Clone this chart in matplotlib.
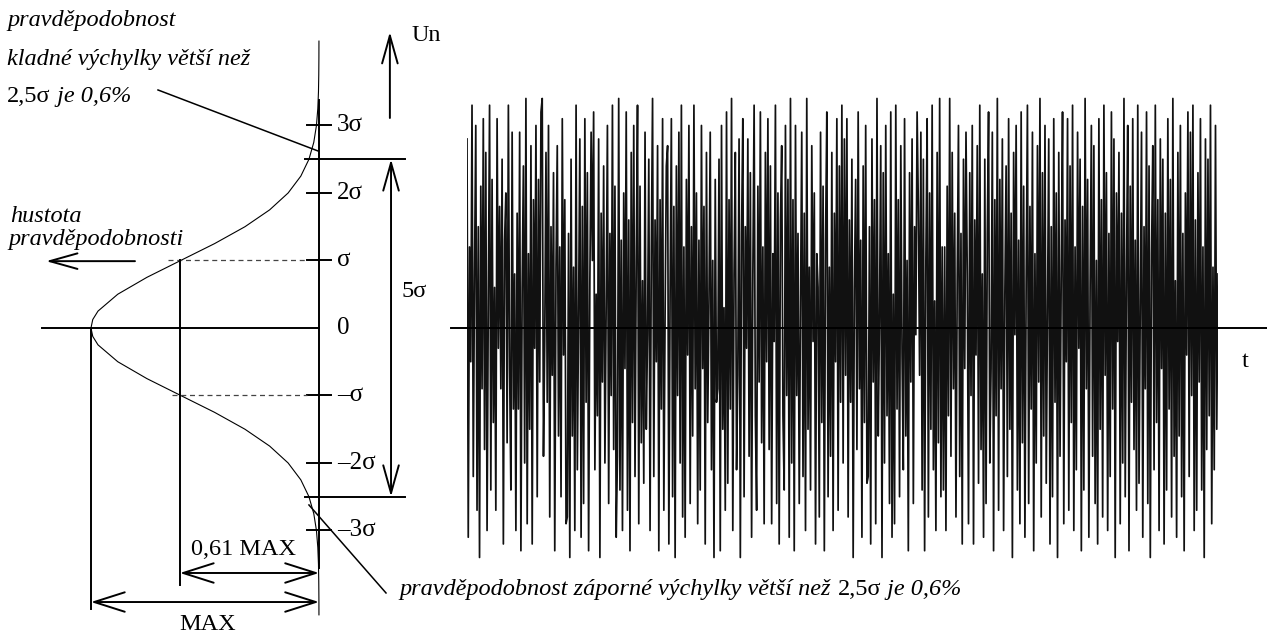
import numpy as np
import matplotlib
matplotlib.use('Agg')
import matplotlib.pyplot as plt

plt.rcParams['font.family'] = ['Liberation Serif', 'DejaVu Serif']

# --- data ---
# hustota pravdepodobnosti (relativne k MAX), cteno po 0.25 sigma
curve_u = [-4.25, -4.0, -3.75, -3.5, -3.25, -3.0, -2.75, -2.5, -2.25, -2.0,
           -1.75, -1.5, -1.25, -1.0, -0.75, -0.5, -0.25, -0.125, 0.0,
           0.125, 0.25, 0.5, 0.75, 1.0, 1.25, 1.5, 1.75, 2.0, 2.25, 2.5,
           2.75, 3.0, 3.25, 3.5, 3.75, 4.0, 4.25]
curve_p = [0.0001, 0.0003, 0.0009, 0.0022, 0.0051, 0.0111, 0.0228, 0.0439,
           0.0796, 0.1353, 0.2163, 0.3247, 0.4578, 0.6065, 0.7548, 0.8825,
           0.9692, 0.9922, 1.0, 0.9922, 0.9692, 0.8825, 0.7548, 0.6065,
           0.4578, 0.3247, 0.2163, 0.1353, 0.0796, 0.0439, 0.0228, 0.0111,
           0.0051, 0.0022, 0.0009, 0.0003, 0.0001]

sigma_ticks = [3, 2, 1, 0, -1, -2, -3]
tick_labels = ['3σ', '2σ', 'σ', '0', '–σ', '–2σ', '–3σ']

# sum Un(t) v desetinach sigma
noise_tenths = [
    28, -31, 12, -5, 33, -22, 8, 30, -27, 15, -34, 21, -9, 31, -18, 26, -30, 4, 33, -24,
    22, -14, 6, -27, 31, -3, 18, -9, 25, -32, 13, 20, -17, 33, -6, -24, 29, -12, 8, -30,
    17, -12, 29, -33, 6, 24, -20, 34, -29, 11, -15, 27, -32, 19, -3, 30, -25, 22, -8, 32,
    34, -19, -2, 26, -11, 30, -28, 15, -7, 23, -33, 9, 27, -16, 12, -25, 31, -4, 19, -29,
    -28, 14, -34, 25, -16, 9, -30, 33, -21, 2, 28, -31, 18, -26, 31, -11, 23, -33, 7, 29,
    10, 32, -21, 5, -13, 28, -34, 17, -8, 24, -20, 3, 30, -26, 14, -10, 33, -18, 21, -31,
    -19, 34, -24, 13, -30, 20, -6, 32, -27, 16, -33, 26, -14, 30, -22, 10, 33, -29, 21, -17,
    7, -23, 29, -15, -1, 25, -30, 11, 34, -22, 16, -5, 27, -33, 19, -12, 31, -27, 2, 24,
    27, -32, 5, 31, -25, 18, -34, 24, -10, 29, -20, 33, -28, 12, -31, 22, -4, 30, -26, 15,
    -16, 33, -9, 20, -29, 13, -24, 30, -6, 18, -32, 26, -14, 4, 29, -21, 10, -34, 22, -11,
    -9, 25, -33, 30, -15, 3, -27, 32, -23, 19, -12, 34, -30, 8, 26, -21, -7, 28, -34, 14,
    31, -25, 15, -3, 28, -19, 23, -31, 8, 33, -13, -27, 21, -8, 32, -17, 12, -29, 26, -5,
    31, -18, 24, -29, 11, -2, 33, -26, 20, -32, 16, 27, -13, -24, 30, -10, 22, -31, 34, -20,
    19, -33, 30, -10, 14, -26, 3, 29, -22, 17, -30, 34, -15, 9, -24, 27, -2, 20, -32, 11,
    6, -28, 29, -14, 21, -33, 13, 32, -25, 9, -19, 26, -30, 17, -5, 31, -27, 24, -11, 33,
    -20, 28, -7, 31, -28, 16, -11, 25, -34, 6, 22, -18, 32, -9, 13, -31, 24, -14, 30, -23,
    -22, 15, -32, 28, -8, 19, -29, 34, -16, 1, 27, -34, 23, -20, 30, -13, 11, -26, 32, -31,
    5, -29, 33, -12, 19, -25, 27, -4, -21, 31, -16, 10, -33, 23, -8, 28, -26, 15, -1, 32,
    18, -7, 29, -24, 25, -33, 10, 31, -28, 20, -15, 33, -21, 4, -30, 26, -17, 34, -25, 12,
    -24, 12, -30, 21, -13, 34, -19, 26, -9, 17, -28, 7, 30, -22, 14, -32, 25, -6, 29, 8,
    -29, 23, -10, 30, -32, 16, -4, 27, -23, 33, -18, 8, -31, 25, -26, 14, 32, -20, -6, 29,
    -33, 19, -13, 34, -27, 22, -9, 28, -30, 5, 24, -22, 31, -15, 17, -34, 26, -1, 30, -24,
    13, -29, 32, -17, 21, -31, 7, 33, -26, 18, -12, 29, -33, 11, -20, 27, -8, 34, -28, 23,
    -16, 30, -23, 3, 28, -32, 15, -25, 31, -11, 20, -34, 26, -19, 9, 32, -29, 16, -5, 31,
    -27, 24, -14, 33, -30, 12, -21, 29, -3, 25, -33, 18, -24, 34, -9, 22, -31, 6, 30, -19,
    27, -26, 10, -32, 31, -15, 19, -28, 33, -7, 23, -30, 14, -22, 32, -12, 28, -34, 20, -2,
    26, -29, 17, -20, 34, -25, 8, 30, -33, 21, -11, 31, -18, 13, -27, 33, -23, 4, 29, -31,
    15, -9, 32, -26, 24, -34, 11, 27, -21, 33, -14, 19, -30, 28, -6, 25, -32, 17, -24, 31,
    -12, 22, -28, 34, -19, 7, -31, 26, -16, 30, -25, 14, -33, 20, -4, 32, -22, 29, -10, 33,
    -30, 16, -27, 23, -8, 31, -24, 12, -34, 28, -18, 25, -13, 33, -29, 9, -21, 30, -15, 8,
]
noise = np.array(noise_tenths) / 10.0

FS = 17.5
LW = 1.4
YLIM = (-4.519, 4.859)


def arrow(ax, p_from, p_to, style='->', hl=1.1, hw=0.35):
    ax.annotate('', xy=p_to, xytext=p_from,
                arrowprops=dict(arrowstyle=f'{style},head_length={hl},head_width={hw}',
                                mutation_scale=20, lw=LW, color='black',
                                shrinkA=0, shrinkB=0))


def mixed_text(ax, x, y, parts):
    t = ax.text(x, y, parts[0][0], style=parts[0][1], fontsize=FS,
                ha='left', va='bottom')
    for s, st in parts[1:]:
        t = ax.annotate(s, xy=(1, 0), xycoords=t, style=st, fontsize=FS,
                        ha='left', va='bottom')


fig = plt.figure(figsize=(12.67, 6.33), dpi=100)

# signal vpravo
ax2 = fig.add_axes([467 / 1267, 0, 751 / 1267, 1])
ax2.plot(np.arange(len(noise)), noise, color='#111111', lw=1.25)
ax2.set_xlim(0, len(noise) - 1)
ax2.set_ylim(*YLIM)
ax2.axis('off')

# hustota vlevo (x = hustota / MAX, osa obracena)
ax = fig.add_axes([0, 0, 1, 1])
ax.set_xlim(1.399, -4.158)
ax.set_ylim(*YLIM)
ax.axis('off')

ax.plot(curve_p, curve_u, color='black', lw=0.8)
ax.plot([0, 0], [3.38, -3.56], color='black', lw=LW)
for u, lab in zip(sigma_ticks, tick_labels):
    if u != 0:
        ax.plot([0.053, -0.053], [u, u], color='black', lw=LW)
    ax.text(-0.079, u, lab, fontsize=18, ha='left', va='center')

# nulova osa, t-osa
ax.plot([1.215, 0], [0, 0], color='black', lw=LW)
ax.plot([-0.579, -4.158], [0, 0], color='black', lw=LW)
ax.text(-4.048, -0.578, 't', fontsize=FS, ha='left', va='baseline')

# +-sigma
ax.plot([0.66, 0.053], [1, 1], color='#444444', lw=0.9, ls=(0, (4, 3)))
ax.plot([0.645, 0.053], [-1, -1], color='#444444', lw=0.9, ls=(0, (4, 3)))
ax.plot([0.61, 0.61], [1, -3.807], color='black', lw=LW)
ax.plot([1.0, 1.0], [0, -4.163], color='black', lw=LW)

# MAX koty
arrow(ax, (0.61, -3.63), (0, -3.63), style='<->')
ax.text(0.329, -3.363, '0,61 MAX', fontsize=FS, ha='center', va='baseline')
arrow(ax, (1.0, -4.06), (0, -4.06), style='<->')
ax.text(0.487, -4.47, 'MAX', fontsize=FS, ha='center', va='baseline')

# 2,5 sigma a 5 sigma
ax.plot([0.061, -0.377], [2.5, 2.5], color='black', lw=LW)
ax.plot([0.061, -0.377], [-2.5, -2.5], color='black', lw=LW)
arrow(ax, (-0.316, 2.5), (-0.316, -2.5), style='<->', hl=1.0, hw=0.28)
ax.text(-0.364, 0.459, '5σ', fontsize=FS, ha='left', va='baseline')

# Un
arrow(ax, (-0.311, 3.111), (-0.311, 4.385), hl=1.0, hw=0.28)
ax.text(-0.408, 4.252, 'Un', fontsize=FS, ha='left', va='baseline')

# hustota pravdepodobnosti
arrow(ax, (0.807, 0.99), (1.197, 0.99), hl=1.0, hw=0.28)
ax.text(1.355, 1.570, 'hustota', fontsize=FS, style='italic', ha='left', va='baseline')
ax.text(1.364, 1.230, 'pravděpodobnosti', fontsize=FS, style='italic',
        ha='left', va='baseline')

# popisky pravdepodobnosti
ax.text(1.368, 4.474, 'pravděpodobnost', fontsize=FS, style='italic',
        ha='left', va='baseline')
ax.text(1.368, 3.896, 'kladné výchylky větší než', fontsize=FS, style='italic',
        ha='left', va='baseline')
mixed_text(ax, 1.368, 3.274, [('2,5σ', 'normal'), (' je 0,6%', 'italic')])
ax.plot([0.706, 0.004], [3.526, 2.622], color='black', lw=1.1)

mixed_text(ax, -0.355, -4.03, [('pravděpodobnost záporné výchylky větší než ', 'italic'),
                                ('2,5σ', 'normal'), (' je 0,6%', 'italic')])
ax.plot([0.044, -0.294], [-2.622, -3.926], color='black', lw=1.1)

fig.savefig('out.png', dpi=100)
